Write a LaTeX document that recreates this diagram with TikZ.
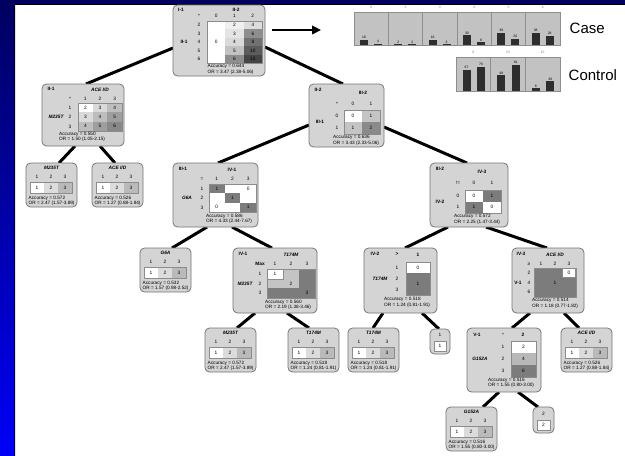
\documentclass[tikz,border=0pt]{standalone}
\usepackage{fontspec}
\setmainfont{Liberation Sans}
\usetikzlibrary{arrows.meta,calc}
\pgfdeclarelayer{back}
\pgfdeclarelayer{links}
\pgfsetlayers{back,links,main}

\definecolor{boxfill}{HTML}{D4D4D4}
\definecolor{boxline}{HTML}{767676}
\definecolor{tabline}{HTML}{8C8C8C}
\definecolor{panelfill}{HTML}{C2C2C2}
\definecolor{panelline}{HTML}{8E8E8E}
\definecolor{barfill}{HTML}{2E2E2E}
\definecolor{navytop}{HTML}{000060}
\definecolor{bluelow}{HTML}{0000F8}
% shades of the root table
\definecolor{rA}{HTML}{F0F0F0}\definecolor{rB}{HTML}{E4E4E4}\definecolor{rC}{HTML}{D9D9D9}
\definecolor{rD}{HTML}{C2C2C2}\definecolor{rE}{HTML}{8E8E8E}
\definecolor{sA}{HTML}{DCDCDC}\definecolor{sB}{HTML}{8E8E8E}\definecolor{sC}{HTML}{717171}
\definecolor{sD}{HTML}{5C5C5C}\definecolor{sE}{HTML}{454545}
% shades of the additive table
\definecolor{g2}{HTML}{FFFFFF}\definecolor{g3}{HTML}{DADADA}\definecolor{g4}{HTML}{BDBDBD}
\definecolor{g5}{HTML}{9E9E9E}\definecolor{g6}{HTML}{888888}
\definecolor{q1}{HTML}{C4C4C4}\definecolor{q2}{HTML}{8A8A8A}
\definecolor{dk}{HTML}{7C7C7C}\definecolor{qv}{HTML}{B8B8B8}
\definecolor{leafB}{HTML}{DCDCDC}\definecolor{leafC}{HTML}{BABABA}

\tikzset{
  box/.style={draw=boxline, line width=0.8, fill=boxfill, rounded corners=4.5, inner sep=0, outer sep=0},
  txt/.style={inner sep=0, font=\fontsize{4.8}{5.5}\selectfont},
  hd/.style={inner sep=0, font=\fontsize{4.8}{5.5}\selectfont\bfseries},
  gene/.style={inner sep=0, font=\fontsize{4.8}{5.5}\selectfont\bfseries\itshape},
  stat/.style={inner sep=0, anchor=north west, align=left, font=\fontsize{4.7}{5.5}\selectfont},
  tab/.style={draw=tabline, line width=0.4},
  link/.style={line width=3, black},
  tiny/.style={inner sep=0, font=\fontsize{3.4}{4}\selectfont},
}

% rounded box with its top-left corner at (x,y)
\newcommand\boxat[5]{\node[box,anchor=north west,minimum width=#4,minimum height=#5] (#1) at (#2,#3) {};}
% filled table cell with its value in the middle
\newcommand\tcell[7]{\fill[#6] ({#2},{#3}) rectangle ({#4},{#5});
  \node[txt] (#1) at ({(#2+#4)/2},{(#3+#5)/2}) {#7};}
% one-locus leaf: name, x, y, locus, accuracy, odds ratio
\newcommand\leafbox[6]{%
  \boxat{#1}{#2}{#3}{51}{44}
  \node[gene] (#1-t) at ({#2+25.5},{#3+4.8}) {#4};
  \foreach \k/\c in {1/white,2/leafB,3/leafC} {
    \node[txt] (#1-h\k) at ({#2+11+14*(\k-1)},{#3+13.5}) {\k};
    \tcell{#1-v\k}{#2+4+14*(\k-1)}{#3+19}{#2+18+14*(\k-1)}{#3+30}{\c}{\k}
  }
  \draw[tab] ({#2+4},{#3+19}) rectangle ({#2+46},{#3+30});
  \node[stat] (#1-s) at ({#2+2.5},{#3+32.6}) {Accuracy = #5\\OR = #6};
}

\begin{document}
\begin{tikzpicture}[x=1pt,y=-1pt]
\useasboundingbox (0,0) rectangle (625,456);

% frame: white sheet with a blue strip on the left
\begin{pgfonlayer}{back}
  \fill[white] (0,0) rectangle (625,456);
  \shade[top color=navytop, bottom color=bluelow] (0,0) rectangle (15,456);
  \fill[navytop] (0,0) rectangle (625,4.5);
  \draw[black, line width=1] (14.5,456) -- (14.5,4.5) -- (625,4.5);
\end{pgfonlayer}

% ---------- root: I-1 ----------
\boxat{root}{173}{5}{92}{71}
\node[hd] (root-a) at (181,9.5) {I-1};
\node[hd] (root-b) at (236,9.5) {II-2};
\node[hd] (root-c) at (184,42) {II-1};
\node[txt] (root-star) at (199,16) {*};
\foreach \v/\xx in {0/216.2,1/234.5,2/252.8} \node[txt] (root-h\v) at (\xx,16) {\v};
\foreach \v [count=\r from 0] in {2,...,6} \node[txt] (root-r\v) at (199,{25.2+8.4*\r}) {\v};
\fill[white] (207,21) rectangle (225.3,63);
\node[txt] (root-z) at (216.2,42) {0};
\foreach \v/\c [count=\r from 0] in {2/rA,3/rB,4/rC,5/rD,6/rE}
  {\tcell{root-p\v}{225.3}{21+8.4*\r}{243.7}{29.4+8.4*\r}{\c}{\v}}
\foreach \v/\c [count=\r from 0] in {4/sA,6/sB,8/sC,10/sD,12/sE}
  {\tcell{root-q\v}{243.7}{21+8.4*\r}{262}{29.4+8.4*\r}{\c}{\v}}
\draw[tab] (207,21) rectangle (262,63);
\node[stat] (root-s) at (207.5,64.3) {Accuracy = 0.644\\OR = 3.47 (2.38-5.06)};

% arrow towards the bar charts
\coordinate (tip) at (321,30);
\draw[line width=2.6,-{Triangle[length=9,width=8.5]}] ($(root.north east)+(7,25)$) -- (tip);

% ---------- bar charts ----------
\foreach \h/\a/\b [count=\i from 0] in {0/16/4,2/2/2,3/16/2,4/30/8,5/38/20,6/38/28}{
  \pgfmathsetmacro\px{354+34.33*\i}
  \filldraw[fill=panelfill,draw=panelline,line width=0.5] (\px,12) rectangle ({\px+34.33},45);
  \node[tiny,text=gray] (case-h\i) at ({\px+17.2},7.5) {\h};
  \fill[barfill] ({\px+6},45) rectangle ({\px+14},{45-0.32*\a});
  \fill[barfill] ({\px+20},45) rectangle ({\px+28},{45-0.32*\b});
  \node[tiny] (case-a\i) at ({\px+10},{42.6-0.32*\a}) {\a};
  \node[tiny] (case-b\i) at ({\px+24},{42.6-0.32*\b}) {\b};
}
\foreach \h/\a/\b [count=\i from 0] in {8/67/76,10/49/81,12/8/30}{
  \pgfmathsetmacro\px{456+34.67*\i}
  \filldraw[fill=panelfill,draw=panelline,line width=0.5] (\px,57) rectangle ({\px+34.67},91);
  \node[tiny,text=gray] (ctrl-h\i) at ({\px+17.3},52.5) {\h};
  \fill[barfill] ({\px+6.5},91) rectangle ({\px+14.5},{91-0.32*\a});
  \fill[barfill] ({\px+21},91) rectangle ({\px+29},{91-0.32*\b});
  \node[tiny] (ctrl-a\i) at ({\px+10.5},{88.6-0.32*\a}) {\a};
  \node[tiny] (ctrl-b\i) at ({\px+25},{88.6-0.32*\b}) {\b};
}
\node[anchor=west,inner sep=0,font=\fontsize{15}{18}\selectfont] (case) at (569.5,28) {Case};
\node[anchor=west,inner sep=0,font=\fontsize{15}{18}\selectfont] (ctrl) at (568.5,75) {Control};

% ---------- II-1 ----------
\boxat{ii1}{42}{84}{82}{62}
\node[hd] (ii1-a) at (51,89) {II-1};
\node[gene] (ii1-b) at (100,90) {ACE I/D};
\node[txt] (ii1-star) at (70,99) {*};
\foreach \k in {1,2,3} \node[txt] (ii1-h\k) at ({85.3+14.67*(\k-1)},99) {\k};
\foreach \k in {1,2,3} \node[txt] (ii1-r\k) at (70,{107.7+9.33*(\k-1)}) {\k};
\node[gene] (ii1-g) at (56,117) {M235T};
\foreach \i in {1,2,3} {\foreach \j in {1,2,3} {
  \pgfmathtruncatemacro\v{\i+\j}
  \tcell{ii1-c\i\j}{78+14.67*(\j-1)}{103+9.33*(\i-1)}{78+14.67*\j}{103+9.33*\i}{g\v}{\v}}}
\draw[tab] (78,103) rectangle (122,131);
\node[stat] (ii1-s) at (59,131.6) {Accuracy = 0.550\\OR = 1.50 (1.05-2.15)};

\leafbox{lfa}{26}{163}{M235T}{0.572}{2.47 (1.57-3.89)}
\leafbox{lfb}{92}{163}{ACE I/D}{0.526}{1.27 (0.88-1.84)}

% ---------- II-2 ----------
\boxat{ii2}{309}{84}{75}{63}
\node[hd] (ii2-a) at (318,89.5) {II-2};
\node[hd] (ii2-b) at (363,92.5) {III-2};
\node[hd] (ii2-c) at (320,122) {III-1};
\node[txt] (ii2-star) at (337,104) {*};
\node[txt] (ii2-h0) at (353,104) {0};
\node[txt] (ii2-h1) at (371,104) {1};
\node[txt] (ii2-r0) at (337,116) {0};
\node[txt] (ii2-r1) at (337,128) {1};
\tcell{ii2-c00}{344}{110}{362}{122}{white}{0}
\tcell{ii2-c01}{362}{110}{380}{122}{q1}{1}
\tcell{ii2-c10}{344}{122}{362}{134}{q1}{1}
\tcell{ii2-c11}{362}{122}{380}{134}{q2}{2}
\draw[tab] (344,110) rectangle (380,134);
\node[stat] (ii2-s) at (333,135.3) {Accuracy = 0.636\\OR = 3.43 (2.33-5.06)};

% ---------- III-1 ----------
\boxat{iii1}{173}{163}{85}{64}
\node[hd] (iii1-a) at (183,169) {III-1};
\node[hd] (iii1-b) at (232,170) {IV-1};
\node[gene] (iii1-g) at (187,198) {G6A};
\node[txt] (iii1-eq) at (202,179) {=};
\foreach \k in {1,2,3} \node[txt] (iii1-h\k) at ({216.8+15.67*(\k-1)},179) {\k};
\foreach \k in {1,2,3} \node[txt] (iii1-r\k) at (202,{188.7+9.33*(\k-1)}) {\k};
\fill[white] (209,184) rectangle (256,212);
\foreach \k in {1,2,3}
  {\tcell{iii1-d\k}{209+15.67*(\k-1)}{184+9.33*(\k-1)}{209+15.67*\k}{184+9.33*\k}{dk}{1}}
\node[txt] (iii1-z1) at (248.2,188.7) {0};
\node[txt] (iii1-z2) at (216.8,207.3) {0};
\draw[tab] (209,184) rectangle (256,212);
\node[stat] (iii1-s) at (206,213.6) {Accuracy = 0.586\\OR = 4.33 (2.44-7.67)};

% ---------- III-2 ----------
\boxat{iii2}{430}{163}{78}{64}
\node[hd] (iii2-a) at (440,169) {III-2};
\node[hd] (iii2-b) at (482,172) {IV-3};
\node[hd] (iii2-c) at (440,201.5) {IV-2};
\node[txt] (iii2-ne) at (458,183) {!=};
\node[txt] (iii2-h0) at (474,183) {0};
\node[txt] (iii2-h1) at (492,183) {1};
\node[txt] (iii2-r0) at (458,195.75) {0};
\node[txt] (iii2-r1) at (458,207.25) {1};
\tcell{iii2-c00}{465}{190}{483}{201.5}{white}{0}
\tcell{iii2-c01}{483}{190}{501}{201.5}{dk}{1}
\tcell{iii2-c10}{465}{201.5}{483}{213}{dk}{1}
\tcell{iii2-c11}{483}{201.5}{501}{213}{white}{0}
\draw[tab] (465,190) rectangle (501,213);
\node[stat] (iii2-s) at (454,214.5) {Accuracy = 0.572\\OR = 2.25 (1.47-3.44)};

% ---------- level IV ----------
\leafbox{g6a}{140}{248}{G6A}{0.532}{1.57 (0.98-2.52)}

\boxat{iv1}{233}{248}{84}{65}
\node[hd] (iv1-a) at (243,254) {IV-1};
\node[gene] (iv1-b) at (291,255) {T174M};
\node[hd] (iv1-max) at (260,264) {Max};
\node[gene] (iv1-g) at (245,283.5) {M235T};
\foreach \k in {1,2,3} \node[txt] (iv1-h\k) at ({275+16*(\k-1)},264) {\k};
\foreach \k in {1,2,3} \node[txt] (iv1-r\k) at (260,{273.8+9.67*(\k-1)}) {\k};
\fill[dk] (267,269) rectangle (315,298);
\fill[q1] (267,269) rectangle (299,288.3);
\filldraw[fill=white,draw=tabline,line width=0.3] (267.4,269.4) rectangle (283,278.7);
\node[txt] (iv1-v1) at (275,273.8) {1};
\node[txt] (iv1-v2) at (291,283.5) {2};
\node[txt] (iv1-v3) at (307,293.2) {3};
\draw[tab] (267,269) rectangle (315,298);
\node[stat] (iv1-s) at (265,299.8) {Accuracy = 0.560\\OR = 2.19 (1.38-3.46)};

\boxat{iv2}{364}{248}{73}{65}
\node[hd] (iv2-a) at (375,254) {IV-2};
\node[hd] (iv2-gt) at (397,254.5) {>};
\node[hd] (iv2-one) at (418,254.5) {1};
\node[gene] (iv2-g) at (380,279) {T174M};
\node[txt] (iv2-r1) at (397,267.5) {1};
\node[txt] (iv2-r2) at (397,279) {2};
\node[txt] (iv2-r3) at (397,290) {3};
\tcell{iv2-c1}{406}{262}{430}{273}{white}{0}
\tcell{iv2-c2}{406}{273}{430}{295}{dk}{1}
\draw[tab] (406,262) rectangle (430,295);
\node[stat] (iv2-s) at (384,297.5) {Accuracy = 0.518\\OR = 1.24 (0.81-1.91)};

\boxat{iv3}{512}{248}{72}{65}
\node[hd] (iv3-a) at (521,254) {IV-3};
\node[gene] (iv3-b) at (555,255) {ACE I/D};
\node[hd] (iv3-g) at (518,283) {V-1};
\node[txt] (iv3-ge) at (529,264) {≥};
\foreach \k in {1,2,3} \node[txt] (iv3-h\k) at ({541+14*(\k-1)},264) {\k};
\foreach \v [count=\r from 0] in {2,4,6} \node[txt] (iv3-r\v) at (529,{272.8+9.67*\r}) {\v};
\fill[dk] (534,268) rectangle (576,297);
\filldraw[fill=white,draw=tabline,line width=0.3] (562.5,268.5) rectangle (575.5,277.5);
\node[txt] (iv3-z) at (569,273) {0};
\node[txt] (iv3-one) at (555,283) {1};
\draw[tab] (534,268) rectangle (576,297);
\node[stat] (iv3-s) at (532,298.3) {Accuracy = 0.514\\OR = 1.18 (0.77-1.82)};

% ---------- level V ----------
\leafbox{lfc}{205}{328}{M235T}{0.572}{2.47 (1.57-3.89)}
\leafbox{lfd}{288}{328}{T174M}{0.518}{1.24 (0.81-1.91)}
\leafbox{lfe}{348}{328}{T174M}{0.518}{1.24 (0.81-1.91)}
\leafbox{lff}{561}{328}{ACE I/D}{0.526}{1.27 (0.88-1.84)}

\boxat{one}{430}{329}{20}{25}
\node[txt] (one-h) at (440,335) {1};
\filldraw[fill=white,draw=tabline,line width=0.4] (434,341) rectangle (446,351);
\node[txt] (one-v) at (440,346) {1};

\boxat{v1}{467}{328}{74}{64}
\node[hd] (v1-a) at (477,334.5) {V-1};
\node[txt] (v1-star) at (503,334.5) {*};
\node[hd] (v1-two) at (523,334.5) {2};
\node[gene] (v1-g) at (480,359) {G152A};
\node[txt] (v1-r1) at (503,347) {1};
\node[txt] (v1-r2) at (503,359) {2};
\node[txt] (v1-r3) at (503,371) {3};
\tcell{v1-c1}{511}{341}{536}{353}{white}{2}
\tcell{v1-c2}{511}{353}{536}{365}{qv}{4}
\tcell{v1-c3}{511}{365}{536}{377}{dk}{6}
\draw[tab] (511,341) rectangle (536,377);
\node[stat] (v1-s) at (488,378) {Accuracy = 0.516\\OR = 1.55 (0.80-3.00)};

\leafbox{lfg}{446}{407}{G152A}{0.516}{1.55 (0.80-3.00)}

\boxat{two}{533}{407}{21}{26}
\node[txt] (two-h) at (543.5,414) {2};
\filldraw[fill=white,draw=tabline,line width=0.4] (537,420) rectangle (550,430);
\node[txt] (two-v) at (543.5,425) {2};

% ---------- tree branches ----------
\begin{pgfonlayer}{links}
  \draw[link] ($(root.north west)+(0,43)$) -- ($(ii1.north west)+(44,0)$);
  \draw[link] ($(root.north east)+(0,42)$) -- ($(ii2.north west)+(34,0)$);
  \draw[link] ($(ii1.south west)+(33,0)$) -- ($(lfa.north west)+(33,0)$);
  \draw[link] ($(ii1.south west)+(58,0)$) -- ($(lfb.north west)+(23,0)$);
  \draw[link] ($(ii2.north west)+(0,41)$) -- ($(iii1.north west)+(45,0)$);
  \draw[link] ($(ii2.north east)+(0,43)$) -- ($(iii2.north west)+(37,0)$);
  \draw[link] ($(iii1.south west)+(34,0)$) -- ($(g6a.north west)+(32,0)$);
  \draw[link] ($(iii1.south west)+(59,0)$) -- ($(iv1.north west)+(39,0)$);
  \draw[link] ($(iii2.south west)+(18,0)$) -- ($(iv2.north west)+(41,0)$);
  \draw[link] ($(iii2.south west)+(56,0)$) -- ($(iv3.north west)+(35,0)$);
  \draw[link] ($(iv1.south west)+(22,0)$) -- ($(lfc.north west)+(32,0)$);
  \draw[link] ($(iv1.south west)+(54,0)$) -- ($(lfd.north west)+(21,0)$);
  \draw[link] ($(iv2.south west)+(19,0)$) -- ($(lfe.north west)+(25,0)$);
  \draw[link] ($(iv2.south west)+(58,0)$) -- ($(one.north west)+(9,0)$);
  \draw[link] ($(iv3.south west)+(18,0)$) -- ($(v1.north west)+(45,0)$);
  \draw[link] ($(iv3.south west)+(52,0)$) -- ($(lff.north west)+(18,0)$);
  \draw[link] ($(v1.south west)+(32,0)$) -- ($(lfg.north west)+(37,0)$);
  \draw[link] ($(v1.south west)+(51,0)$) -- ($(two.north west)+(5,0)$);
\end{pgfonlayer}
\end{tikzpicture}
\end{document}
